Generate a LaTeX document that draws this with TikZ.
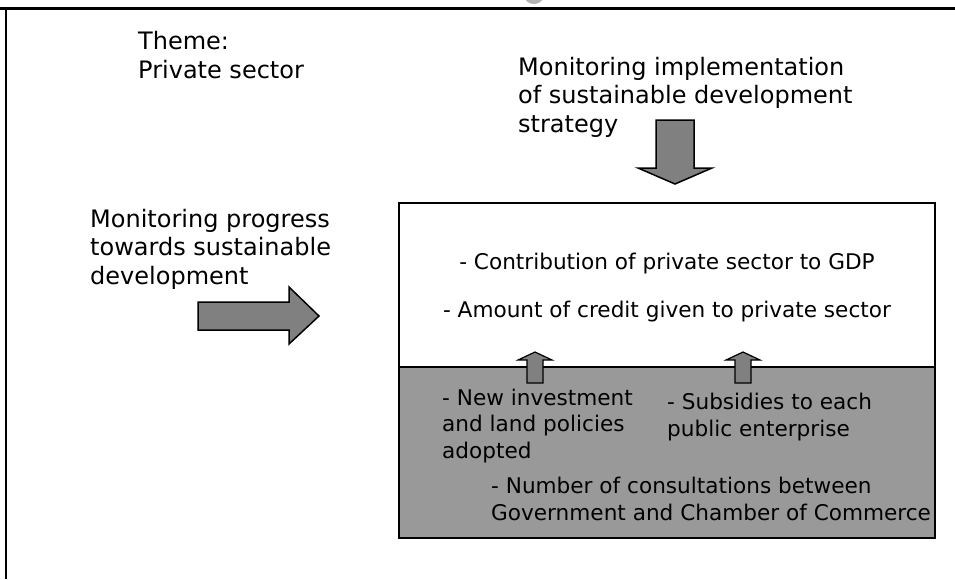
\documentclass[tikz,border=0pt]{standalone}
\usepackage{fontspec}
\setmainfont{DejaVu Sans}
\definecolor{arrowgray}{RGB}{128,128,128}
\definecolor{boxgray}{RGB}{153,153,153}

\begin{document}
\begin{tikzpicture}[x=1pt,y=-1pt,
    headline/.style={inner sep=0pt, anchor=base west, align=left,
                     font=\fontsize{24}{28.5}\selectfont},
    entry/.style={inner sep=0pt, align=left,
                  font=\fontsize{21.6}{26.5}\selectfont},
    block/.style={draw, line width=1.5pt, fill=arrowgray, line join=miter}]
  \useasboundingbox (0,0) rectangle (955,579);

  \fill[gray!60] (534,-5) ellipse (10 and 9);
  \draw[line width=3pt] (0,8) -- (955,8);
  \draw[line width=2.5pt] (6,8) -- (6,579);

  \node[headline] (theme) at (138,78) {Theme:\\Private sector};
  \node[headline] (strategy) at (518,132)
      {Monitoring implementation\\of sustainable development\\strategy};
  \node[headline] (progress) at (90,284)
      {Monitoring progress\\towards sustainable\\development};

  \draw[block] (198,302) -- (289,302) -- (289,287) -- (319,316)
      -- (289,344) -- (289,330) -- (198,330) -- cycle;
  \draw[block] (656,120) -- (694,120) -- (694,168) -- (712,168)
      -- (675,184) -- (638,168) -- (656,168) -- cycle;

  \draw[line width=2pt, fill=white] (399,203) rectangle (935,538);
  \draw[line width=2pt, fill=boxgray] (399,367) rectangle (935,538);

  \foreach \x in {535,743}
    \draw[block, line width=1.2pt, shift={(\x,0)}] (-8,383) -- (-8,360)
        -- (-17,360) -- (0,352) -- (17,360) -- (8,360) -- (8,383) -- cycle;

  \node[entry, anchor=base] (gdp) at (667,269)
      {- Contribution of private sector to GDP};
  \node[entry, anchor=base] (credit) at (667,317)
      {- Amount of credit given to private sector};
  \node[entry, anchor=base west] (invest) at (442,458)
      {- New investment\\and land policies\\adopted};
  \node[entry, anchor=base west] (subsidy) at (667,436)
      {- Subsidies to each\\public enterprise};
  \node[entry, anchor=base west] (consult) at (491,520)
      {- Number of consultations between\\Government and Chamber of Commerce};
\end{tikzpicture}
\end{document}
